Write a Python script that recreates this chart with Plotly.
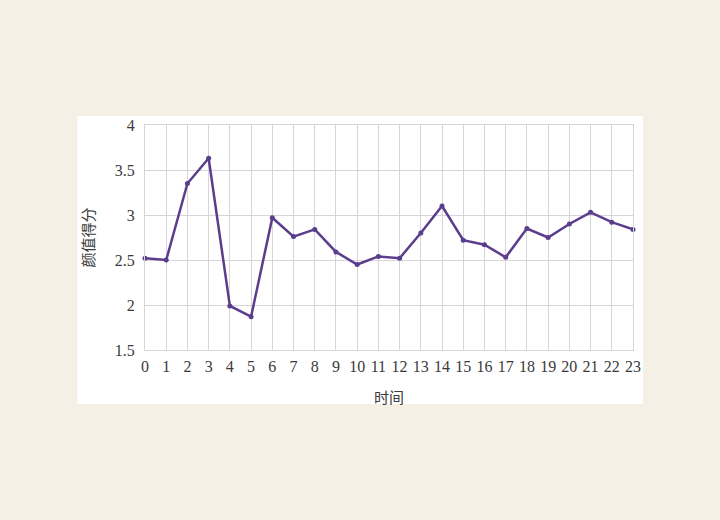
import plotly.graph_objects as go

hours = list(range(24))
scores = [2.52, 2.50, 3.35, 3.63, 1.99, 1.87, 2.97, 2.76, 2.84, 2.59, 2.45, 2.54,
          2.52, 2.80, 3.10, 2.72, 2.67, 2.53, 2.85, 2.75, 2.90, 3.03, 2.92, 2.84]
y_ticks = [1.5, 2, 2.5, 3, 3.5, 4]
y_tick_text = ["1.5", "2", "2.5", "3", "3.5", "4"]

line_color = "#5a3d8c"
grid_color = "#d6d6d9"
text_color = "#3a3a3a"
serif = "Liberation Serif, Times New Roman, serif"
cjk = "Noto Sans CJK SC"

fig = go.Figure()
fig.add_trace(go.Scatter(
    x=hours, y=scores, mode="lines+markers",
    line=dict(color=line_color, width=2.5),
    marker=dict(color=line_color, size=5),
    showlegend=False, cliponaxis=False,
))

fig.add_shape(type="rect", xref="paper", yref="paper",
              x0=-0.139, x1=1.0205, y0=-0.24, y1=1.04,
              fillcolor="white", line=dict(width=0), layer="below")

fig.update_layout(
    width=720, height=520,
    margin=dict(l=145, r=87, t=125, b=170),
    paper_bgcolor="#f5f0e6",
    plot_bgcolor="white",
    font=dict(family=serif, size=16, color=text_color),
    xaxis=dict(
        range=[0, 23], tickmode="array", tickvals=hours,
        ticktext=[str(h) for h in hours],
        showgrid=True, gridcolor=grid_color, gridwidth=1,
        showline=True, linecolor=grid_color, mirror=True,
        zeroline=False, ticks="", ticklen=0, ticklabelstandoff=2,
        tickfont=dict(family=serif, size=16, color=text_color),
        title=dict(text="时间", font=dict(family=cjk, size=15, color=text_color), standoff=18),
    ),
    yaxis=dict(
        range=[1.5, 4], tickmode="array", tickvals=y_ticks, ticktext=y_tick_text,
        showgrid=True, gridcolor=grid_color, gridwidth=1,
        showline=True, linecolor=grid_color, mirror=True,
        zeroline=False, ticks="", ticklen=0, ticklabelstandoff=6,
        tickfont=dict(family=serif, size=16, color=text_color),
        title=dict(text="颜值得分", font=dict(family=cjk, size=15, color=text_color), standoff=16),
    ),
)

fig.write_html("out.html")
